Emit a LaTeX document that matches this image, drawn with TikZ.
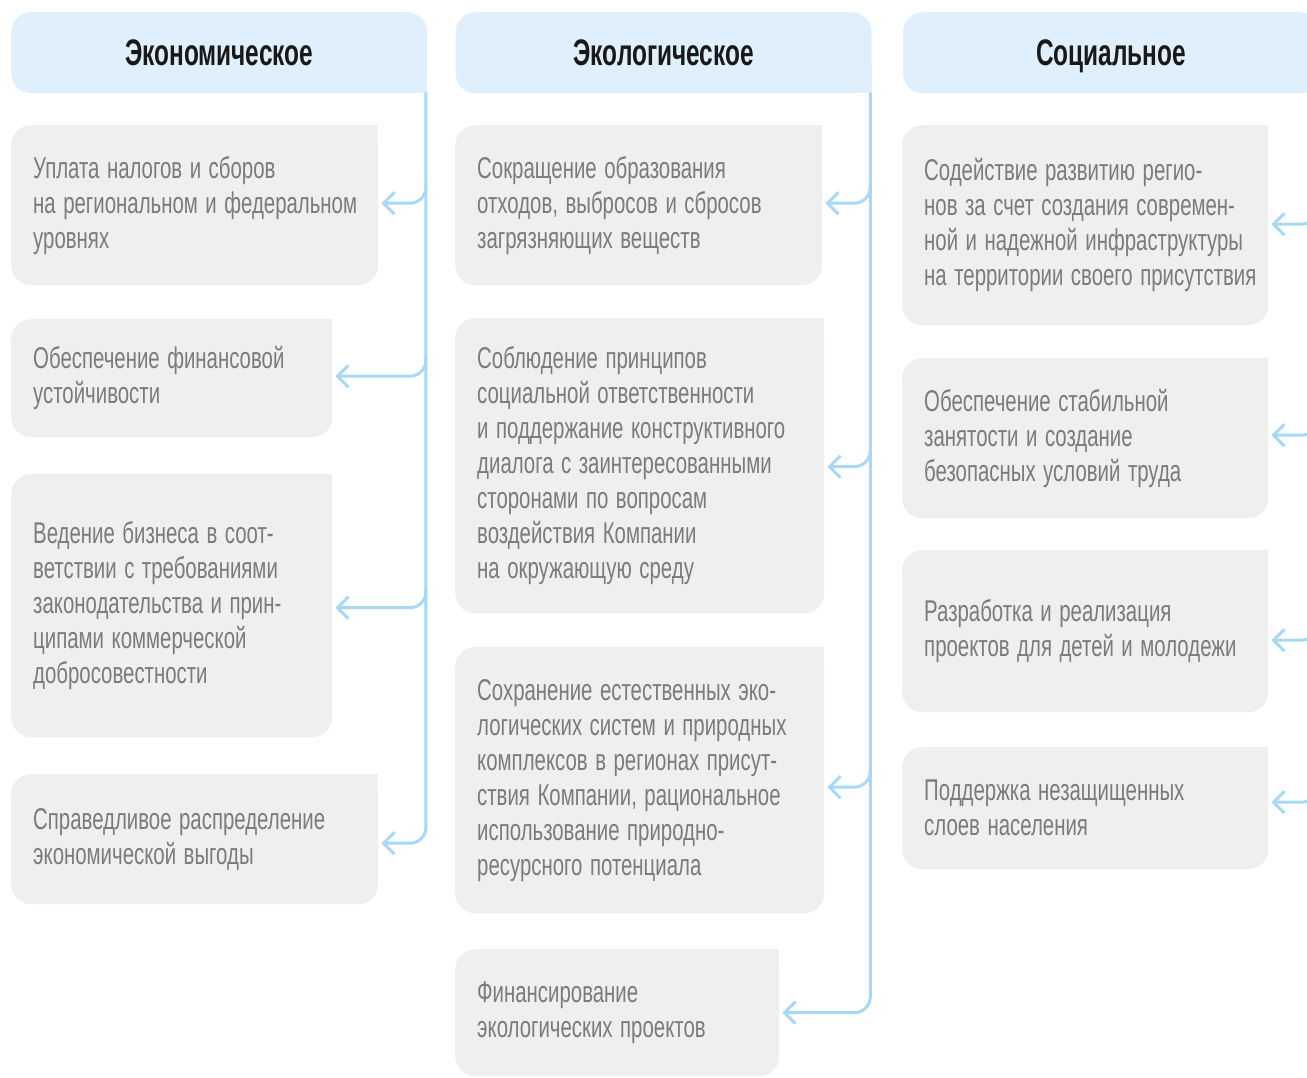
\documentclass[tikz,border=0pt]{standalone}
\usepackage{fontspec}
\setmainfont{Liberation Sans}[FakeStretch=0.68]
\newfontfamily\headfont{Liberation Sans}[FakeStretch=0.66]
\usetikzlibrary{
	calc,
	positioning,
	arrows.meta
}
\definecolor{headblue}{HTML}{DFF0FC}
\definecolor{boxgrey}{HTML}{EFEFEF}
\definecolor{txtgrey}{HTML}{7B7B7B}
\definecolor{linkblue}{HTML}{A6D9F5}

\begin{document}
\begin{tikzpicture}[
				x=1pt, y=-1pt,
				head/.style={fill=headblue, rounded corners=20pt, anchor=north west, minimum width=416pt, minimum height=81pt, inner sep=0pt, text depth=0pt, text=black!90, font=\headfont\bfseries\fontsize{37}{40}\selectfont},
				item/.style={fill=boxgrey, rounded corners=20pt, anchor=north west, align=left, inner xsep=22pt, inner ysep=0pt, text=txtgrey, font=\fontsize{30}{35}\selectfont, execute at begin node={\spaceskip=7.5pt plus 2pt\relax\rightskip=0pt plus 1fil minus 40pt\relax}},
				link/.style={draw=linkblue, line width=3pt, line cap=round, rounded corners=16pt, ->, >={Straight Barb[length=11pt, width=22pt]}}
			]
				\useasboundingbox (0,0) rectangle (1307,1077);
				\clip (0,0) rectangle (1307,1077);

				% заголовки
				\node[head] (hEco) at (11,12) {Экономическое};
				\node[head, right=28pt of hEco] (hEcol) {Экологическое};
				\node[head, right=31pt of hEcol] (hSoc) {Социальное};

				% экономическое
				\node[item, text width=323pt, minimum height=160pt] (e1) at (11,125)
					{Уплата налогов и сборов\\на региональном и федеральном\\уровнях};
				\node[item, text width=277pt, minimum height=118pt] (e2) at (11,319)
					{Обеспечение финансовой\\устойчивости};
				\node[item, text width=277pt, minimum height=263pt] (e3) at (11,474)
					{Ведение бизнеса в соот-\\ветствии с требованиями\\законодательства и прин-\\ципами коммерческой\\добросовестности};
				\node[item, text width=323pt, minimum height=130pt] (e4) at (11,774)
					{Справедливое распределение\\экономической выгоды};

				% экологическое
				\node[item, text width=323pt, minimum height=160pt] (c1) at (455,125)
					{Сокращение образования\\отходов, выбросов и сбросов\\загрязняющих веществ};
				\node[item, text width=325pt, minimum height=295pt] (c2) at (455,318)
					{Соблюдение принципов\\социальной ответственности\\и поддержание конструктивного\\диалога с заинтересованными\\сторонами по вопросам\\воздействия Компании\\на окружающую среду};
				\node[item, text width=325pt, minimum height=266pt] (c3) at (455,647)
					{Сохранение естественных эко-\\логических систем и природных\\комплексов в регионах присут-\\ствия Компании, рациональное\\использование природно-\\ресурсного потенциала};
				\node[item, text width=280pt, minimum height=127pt] (c4) at (455,949)
					{Финансирование\\экологических проектов};

				% социальное
				\node[item, text width=322pt, minimum height=200pt] (s1) at (902,125)
					{Содействие развитию регио-\\нов за счет создания современ-\\ной и надежной инфраструктуры\\на территории своего присутствия};
				\node[item, text width=322pt, minimum height=160pt] (s2) at (902,358)
					{Обеспечение стабильной\\занятости и создание\\безопасных условий труда};
				\node[item, text width=322pt, minimum height=162pt] (s3) at (902,550)
					{Разработка и реализация\\проектов для детей и молодежи};
				\node[item, text width=322pt, minimum height=122pt] (s4) at (902,747)
					{Поддержка незащищенных\\слоев населения};

				% прямые углы
				\foreach \n in {e1,e2,e3,e4,c1,c2,c3,c4,s1,s2,s3,s4}
					\fill[boxgrey] (\n.north east) rectangle ([xshift=-24pt, yshift=-24pt]\n.north east);
				\foreach \n in {hEco,hEcol,hSoc}
					\fill[headblue] (\n.south east) rectangle ([xshift=-24pt, yshift=24pt]\n.south east);

				% стволы
				\coordinate (tEco)  at ([xshift=-1.5pt]hEco.south east);
				\coordinate (tEcol) at ([xshift=-1.5pt]hEcol.south east);
				\coordinate (tSoc)  at ([xshift=-1.5pt]hSoc.south east);

				% стрелки
				\draw[link] (tEco) |- ([xshift=3pt, yshift=-4pt]e4.east);
				\foreach \n/\dy in {e1/2, e2/2, e3/-2}
					\draw[link] ($(tEco |- \n.east)+(0,-18-\dy)$) |- ([xshift=3pt, yshift=\dy pt]\n.east);

				\draw[link] (tEcol) |- ([xshift=3pt]c4.east);
				\foreach \n/\dy in {c1/2, c2/-1, c3/-7}
					\draw[link] ($(tEcol |- \n.east)+(0,-18-\dy)$) |- ([xshift=3pt, yshift=\dy pt]\n.east);

				\draw[link, -] (tSoc) -- (tSoc |- s4.east);
				\foreach \n/\dy in {s1/1, s2/3, s3/-9, s4/6}
					\draw[link] ($(tSoc |- \n.east)+(0,-18-\dy)$) |- ([xshift=3pt, yshift=\dy pt]\n.east);
			\end{tikzpicture}
\end{document}
